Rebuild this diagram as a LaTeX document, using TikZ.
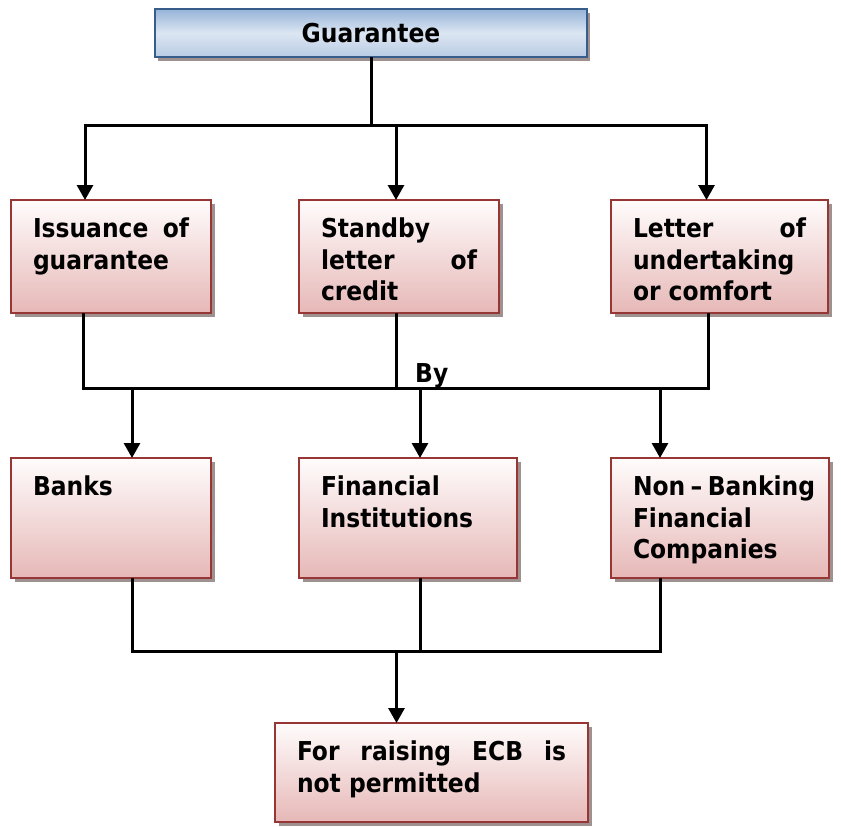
\documentclass[tikz,border=0pt]{standalone}
\usepackage{fontspec}
\setmainfont{DejaVu Sans Condensed}
\usepackage{tikz}
\usetikzlibrary{positioning}
\usetikzlibrary{arrows.meta,calc,shadows}
\hyphenpenalty=10000
\exhyphenpenalty=10000
\definecolor{redline}{RGB}{150,55,53}
\definecolor{redtop}{RGB}{255,252,252}
\definecolor{redbot}{RGB}{230,184,183}
\definecolor{blueline}{RGB}{56,93,138}
\definecolor{bluetop}{RGB}{149,179,215}
\definecolor{bluemid}{RGB}{220,230,242}
\definecolor{bluebot}{RGB}{184,204,228}
\definecolor{shadowgray}{RGB}{160,145,145}
\tikzstyle{headbox} = [rectangle, draw=blueline, line width=2.2pt, outer sep=0pt, top color=bluetop, bottom color=bluebot, middle color=bluemid, minimum width=432pt, minimum height=48pt, inner sep=0pt, font=\fontsize{26}{31.5}\selectfont\bfseries, drop shadow={shadow xshift=3pt,shadow yshift=-4pt,fill=shadowgray,opacity=1}]
\tikzstyle{redbox} = [rectangle, draw=redline, line width=2.8pt, outer sep=0pt, top color=redtop, bottom color=redbot, inner xsep=22pt, inner ysep=18pt, text height=19.5pt, align=justify, font=\fontsize{26}{31.5}\selectfont\bfseries, drop shadow={shadow xshift=4pt,shadow yshift=-4pt,fill=shadowgray,opacity=1}]
\tikzstyle{conn} = [line width=3pt]
\tikzstyle{arrow} = [line width=3pt,-{Triangle[width=16pt,length=15pt]}]

\begin{document}
\begin{tikzpicture}
		\useasboundingbox (0,0) rectangle (841pt,-827pt);
		\node[headbox] (guar) at (371pt,-33pt) {Guarantee};
		\node[redbox,below=143pt of guar,xshift=-260pt,text width=156pt,text depth=57.5pt] (issue) {Issuance of guarantee};
		\node[redbox,right=88pt of issue,text width=156pt,text depth=57.5pt] (standby) {Standby letter of credit};
		\node[redbox,right=112pt of standby,text width=173pt,text depth=57.5pt] (letter) {Letter of undertaking or comfort};
		\node[redbox,below=145pt of issue,text width=156pt,text depth=64.5pt] (banks) {Banks};
		\node[redbox,right=88pt of banks,text width=174pt,text depth=64.5pt] (fininst) {Financial Institutions};
		\node[redbox,right=94pt of fininst,text width=174pt,text depth=64.5pt] (nbfc) {Non~–~Banking Financial Companies};
		\node[redbox,below=145pt of fininst,xshift=23.5pt,text width=269pt,text depth=43.5pt] (ecb) {For raising ECB is not permitted};
		\coordinate (tb) at ([yshift=-68pt]guar.south);
		\coordinate (mb) at ([yshift=-75pt]standby.south);
		\coordinate (lb) at ([yshift=-73pt]fininst.south);
		\node[anchor=base west,inner sep=0pt,font=\fontsize{26}{31.5}\selectfont\bfseries] (by) at ([xshift=16pt,yshift=6pt]mb) {By};
		\draw[conn] (guar.south)--(tb);
		\draw[arrow] (tb)-|([xshift=-26pt]issue.north);
		\draw[arrow] (tb)-|([xshift=-3pt]standby.north);
		\draw[arrow] (tb)-|([xshift=-13pt]letter.north);
		\draw[conn] ([xshift=-28pt]issue.south)|-(mb)-|([xshift=-11pt]letter.south);
		\draw[conn] ([xshift=-3pt]standby.south)--([xshift=-3pt]standby.south |- mb);
		\draw[arrow] ([xshift=21pt]banks.north |- mb)--([xshift=21pt]banks.north);
		\draw[arrow] ([xshift=12pt]fininst.north |- mb)--([xshift=12pt]fininst.north);
		\draw[arrow] ([xshift=-60pt]nbfc.north |- mb)--([xshift=-60pt]nbfc.north);
		\draw[conn] ([xshift=21pt]banks.south)|-(lb)-|([xshift=-60pt]nbfc.south);
		\draw[conn] ([xshift=12pt]fininst.south)--([xshift=12pt]fininst.south |- lb);
		\draw[arrow] ([xshift=-35pt]ecb.north |- lb)--([xshift=-35pt]ecb.north);
	\end{tikzpicture}
\end{document}
